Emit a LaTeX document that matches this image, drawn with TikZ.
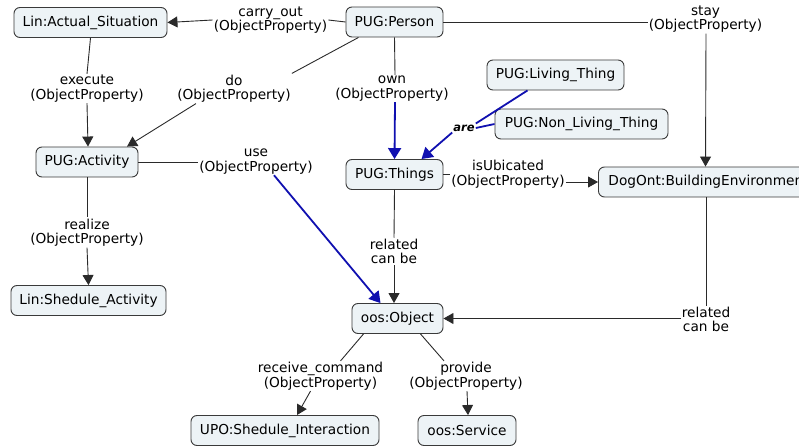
\documentclass[tikz,border=0pt]{standalone}
\usepackage{fontspec}
\setmainfont{DejaVu Sans}
\usetikzlibrary{arrows.meta}
\definecolor{boxfill}{HTML}{EDF3F6}
\definecolor{boxline}{HTML}{3A3A3A}
\definecolor{linkline}{HTML}{2A2A2A}
\definecolor{linkblue}{HTML}{1010B0}
\tikzset{
  concept/.style={draw=boxline, fill=boxfill, rounded corners=6pt, line width=0.9pt,
    minimum height=30pt, inner sep=0pt, font=\fontsize{13.7}{15.5}\selectfont},
  phrase/.style={align=center, inner sep=1pt, font=\fontsize{13.7}{14.5}\selectfont},
  link/.style={draw=linkline, line width=0.9pt},
  linkarrow/.style={link, -{Triangle[length=10pt,width=11pt]}},
  bluelink/.style={draw=linkblue, line width=1.8pt},
  bluearrow/.style={bluelink, -{Triangle[length=11pt,width=13pt]}},
}
\begin{document}
\begin{tikzpicture}[x=1pt,y=-1pt]
\useasboundingbox (0,0) rectangle (799,446);
\clip (0,0) rectangle (799,446);

% concepts
\node[concept, minimum width=153pt] (sit) at (90.5,22.5) {Lin:Actual\_Situation};
\node[concept, minimum width=97pt] (person) at (394.5,22) {PUG:Person};
\node[concept, minimum width=102pt] (act) at (87,162) {PUG:Activity};
\node[concept, minimum width=155pt] (sched) at (88.5,300.5) {Lin:Shedule\_Activity};
\node[concept, minimum width=97pt] (things) at (394.5,174.5) {PUG:Things};
\node[concept, minimum width=137pt] (living) at (555.5,75) {PUG:Living\_Thing};
\node[concept, minimum width=173pt] (nonliving) at (581.5,124) {PUG:Non\_Living\_Thing};
\node[concept, anchor=west, inner xsep=10pt] (building) at (598,182) {DogOnt:BuildingEnvironment};
\node[concept, minimum width=91pt] (object) at (397.5,318.5) {oos:Object};
\node[concept, minimum width=188pt] (inter) at (285,430.5) {UPO:Shedule\_Interaction};
\node[concept, minimum width=98pt] (service) at (467,430.5) {oos:Service};

% linking phrases
\node[phrase] (carry) at (270.5,20) {carry\_out\\(ObjectProperty)};
\node[phrase] (execute) at (87,88.5) {execute\\(ObjectProperty)};
\node[phrase] (do) at (234,88.5) {do\\(ObjectProperty)};
\node[phrase] (own) at (392,88.5) {own\\(ObjectProperty)};
\node[phrase] (stay) at (705.5,19) {stay\\(ObjectProperty)};
\node[phrase] (use) at (256,161.5) {use\\(ObjectProperty)};
\node[phrase] (realize) at (87,232.5) {realize\\(ObjectProperty)};
\node[phrase] (ubic) at (508,174) {isUbicated\\(ObjectProperty)};
\node[phrase, font=\fontsize{11.5}{13}\selectfont\bfseries\itshape] (are) at (464,128) {are};
\node[phrase] (rel1) at (394,251.5) {related\\can be};
\node[phrase] (rel2) at (706,319.5) {related\\can be};
\node[phrase] (recv) at (320.5,376) {receive\_command\\(ObjectProperty)};
\node[phrase] (prov) at (466,376) {provide\\(ObjectProperty)};

% connections
\draw[link] (person.west) -- (carry.east);
\draw[linkarrow] (carry.west) -- (sit.east);
\draw[link] (sit.south) -- (execute.north);
\draw[linkarrow] (execute.south) -- ([xshift=1pt]act.north);
\draw[link] ([xshift=-36pt]person.south) -- (do.north east);
\draw[linkarrow] ([xshift=-38pt]do.south) -- ([xshift=40pt]act.north);
\draw[link] (person.south) -- ([xshift=3pt]own.north);
\draw[bluearrow] ([xshift=3pt]own.south) -- (things.north);
\draw[link] (person.east) -- (stay.west |- person.east);
\draw[linkarrow] ([xshift=0.5pt]stay.south) -- (stay.south |- building.north);

\draw[link] (act.east) -- (use.west |- act.east);
\draw[bluearrow] ([xshift=18pt]use.south) -- ([xshift=-17pt]object.north);
\draw[link] (act.south) -- (realize.north);
\draw[linkarrow] (realize.south) -- (sched.north);

\draw[bluelink] ([xshift=-28pt]living.south) -- (are.north east);
\draw[bluelink] (nonliving.west) -- (are.east);
\draw[bluearrow] (are.south west) -- ([xshift=27pt]things.north);

\draw[link] (things.east) -- (ubic.west |- things.east);
\draw[linkarrow] (ubic.east |- building.west) -- (building.west);
\draw[link] (things.south) -- (rel1.north);
\draw[linkarrow] (rel1.south) -- (rel1.south |- object.north);

\draw[link] (rel2.north |- building.south) -- (rel2.north);
\draw[linkarrow] (rel2.west |- object.east) -- (object.east);

\draw[link] ([xshift=-34pt]object.south) -- ([xshift=20pt]recv.north);
\draw[linkarrow] ([xshift=-10pt]recv.south) -- ([xshift=12pt]inter.north);
\draw[link] ([xshift=23pt]object.south) -- ([xshift=-22pt]prov.north);
\draw[linkarrow] ([xshift=1pt]prov.south) -- ([xshift=1pt]service.north);
\end{tikzpicture}
\end{document}
